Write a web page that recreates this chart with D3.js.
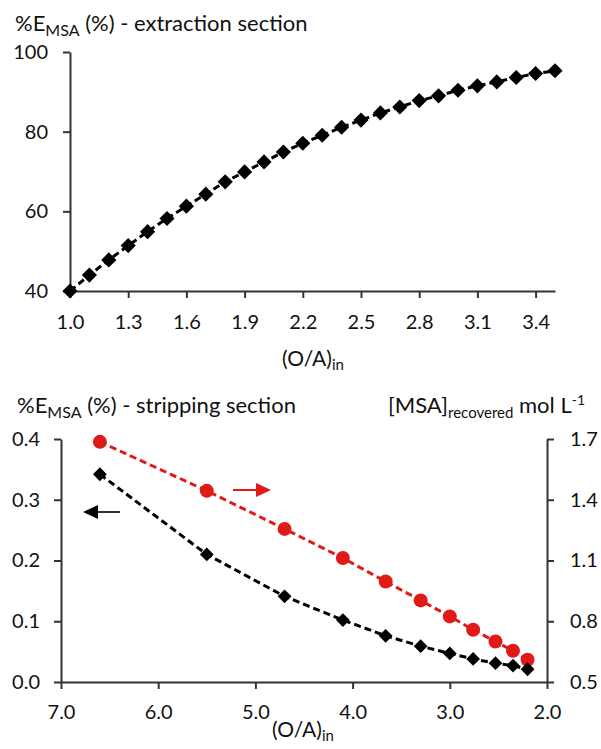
<!DOCTYPE html>
<html>
<head>
<meta charset="utf-8">
<script src="https://cdn.jsdelivr.net/npm/d3@7"></script>
<style>
  body { margin: 0; background: #fff; }
  svg { display: block; font-family: Lato, "Open Sans", sans-serif; }
</style>
</head>
<body>
<div id="chart"></div>
<script>
// extraction section
const extRatio = [1.0, 1.1, 1.2, 1.3, 1.4, 1.5, 1.6, 1.7, 1.8, 1.9, 2.0, 2.1, 2.2,
  2.3, 2.4, 2.5, 2.6, 2.7, 2.8, 2.9, 3.0, 3.1, 3.2, 3.3, 3.4, 3.5];
const extPercent = [40.0, 44.0, 47.8, 51.4, 54.9, 58.2, 61.3, 64.3, 67.4, 69.9, 72.4,
  74.9, 77.1, 79.1, 81.1, 82.9, 84.7, 86.2, 87.8, 89.0, 90.4, 91.5, 92.5, 93.6, 94.6, 95.3];
const extXTicks = [1.0, 1.3, 1.6, 1.9, 2.2, 2.5, 2.8, 3.1, 3.4];
const extYTicks = [40, 60, 80, 100];

// stripping section
const stripRatio = [6.6, 5.5, 4.7, 4.1, 3.66, 3.3, 3.0, 2.76, 2.53, 2.35, 2.2];
const stripPercent = [0.342, 0.210, 0.141, 0.102, 0.076, 0.059, 0.047, 0.038, 0.031, 0.027, 0.021];
const msaRecovered = [1.686, 1.444, 1.256, 1.112, 0.996, 0.903, 0.824, 0.758, 0.700, 0.654, 0.610];
const stripXTicks = [7.0, 6.0, 5.0, 4.0, 3.0, 2.0];
const stripYTicks = [0.0, 0.1, 0.2, 0.3, 0.4];
const msaYTicks = [0.5, 0.8, 1.1, 1.4, 1.7];

const RED = "#e01a17";
const AXIS = "#333";
const TEXT = "#111";
const width = 601, height = 749;

const svg = d3.select("#chart").append("svg")
  .attr("width", width).attr("height", height);
svg.append("rect").attr("width", width).attr("height", height).attr("fill", "#fff");

function styleAxis(g) {
  g.select(".domain").attr("stroke", AXIS).attr("stroke-width", 2);
  g.selectAll(".tick line").attr("stroke", AXIS).attr("stroke-width", 2);
  g.selectAll(".tick text").attr("font-size", 20).attr("fill", TEXT)
    .attr("font-family", "Lato, 'Open Sans', sans-serif");
}

const diamond = d3.symbol().type(d3.symbolSquare);

// ---------- top chart ----------
const x1 = d3.scaleLinear().domain([1.0, 3.5]).range([70, 555]);
const y1 = d3.scaleLinear().domain([40, 100]).range([291, 52]);

svg.append("g").attr("transform", "translate(0,291)")
  .call(d3.axisBottom(x1).tickValues(extXTicks).tickFormat(d3.format(".1f"))
    .tickSize(7).tickSizeOuter(0).tickPadding(17))
  .call(styleAxis);
svg.append("g").attr("transform", "translate(70,0)")
  .call(d3.axisLeft(y1).tickValues(extYTicks).tickSize(7).tickSizeOuter(0).tickPadding(15))
  .call(styleAxis);

const ext = extRatio.map((r, i) => ({ x: r, y: extPercent[i] }));
svg.append("path").datum(ext)
  .attr("fill", "none").attr("stroke", "#000").attr("stroke-width", 3)
  .attr("stroke-dasharray", "7,4")
  .attr("d", d3.line().x(d => x1(d.x)).y(d => y1(d.y)));
svg.append("g").selectAll("path").data(ext).enter().append("path")
  .attr("d", diamond.size(115))
  .attr("transform", d => "translate(" + x1(d.x) + "," + y1(d.y) + ") rotate(45)")
  .attr("fill", "#000");

const t1 = svg.append("text").attr("x", 15).attr("y", 31).attr("font-size", 22).attr("fill", TEXT);
t1.append("tspan").text("%E");
t1.append("tspan").attr("font-size", 16).attr("dy", 5).text("MSA");
t1.append("tspan").attr("dy", -5).text(" (%) - extraction section");

const a1 = svg.append("text").attr("x", 282).attr("y", 366).attr("font-size", 21).attr("fill", TEXT);
a1.append("tspan").text("(O/A)");
a1.append("tspan").attr("font-size", 15).attr("dy", 4).text("in");

// ---------- bottom chart ----------
const x2 = d3.scaleLinear().domain([7.0, 2.0]).range([61, 547]);
const y2 = d3.scaleLinear().domain([0, 0.4]).range([682, 439]);
const y3 = d3.scaleLinear().domain([0.5, 1.7]).range([682, 439]);

svg.append("g").attr("transform", "translate(0,682)")
  .call(d3.axisBottom(x2).tickValues(stripXTicks).tickFormat(d3.format(".1f"))
    .tickSize(7).tickSizeOuter(0).tickPadding(16))
  .call(styleAxis);
svg.append("g").attr("transform", "translate(61,0)")
  .call(d3.axisLeft(y2).tickValues(stripYTicks).tickFormat(d3.format(".1f"))
    .tickSize(7).tickSizeOuter(0).tickPadding(14))
  .call(styleAxis);
svg.append("g").attr("transform", "translate(547,0)")
  .call(d3.axisRight(y3).tickValues(msaYTicks).tickFormat(d3.format(".1f"))
    .tickSize(7).tickSizeOuter(0).tickPadding(16))
  .call(styleAxis);

const strip = stripRatio.map((r, i) => ({ x: r, y: stripPercent[i] }));
const msa = stripRatio.map((r, i) => ({ x: r, y: msaRecovered[i] }));

svg.append("path").datum(msa)
  .attr("fill", "none").attr("stroke", RED).attr("stroke-width", 3)
  .attr("stroke-dasharray", "7,4")
  .attr("d", d3.line().x(d => x2(d.x)).y(d => y3(d.y)));
svg.append("g").selectAll("circle").data(msa).enter().append("circle")
  .attr("cx", d => x2(d.x)).attr("cy", d => y3(d.y)).attr("r", 7)
  .attr("fill", RED);

svg.append("path").datum(strip)
  .attr("fill", "none").attr("stroke", "#000").attr("stroke-width", 3)
  .attr("stroke-dasharray", "7,4")
  .attr("d", d3.line().x(d => x2(d.x)).y(d => y2(d.y)));
svg.append("g").selectAll("path").data(strip).enter().append("path")
  .attr("d", diamond.size(95))
  .attr("transform", d => "translate(" + x2(d.x) + "," + y2(d.y) + ") rotate(45)")
  .attr("fill", "#000");

// arrows
svg.append("line").attr("x1", 233).attr("y1", 490).attr("x2", 257).attr("y2", 490)
  .attr("stroke", RED).attr("stroke-width", 2);
svg.append("path").attr("d", "M256,483 L271,490 L256,497 Z").attr("fill", RED);
svg.append("line").attr("x1", 120).attr("y1", 512).attr("x2", 97).attr("y2", 512)
  .attr("stroke", "#333").attr("stroke-width", 2);
svg.append("path").attr("d", "M98,505 L83,512 L98,519 Z").attr("fill", "#000");

const t2 = svg.append("text").attr("x", 17).attr("y", 413).attr("font-size", 22).attr("fill", TEXT);
t2.append("tspan").text("%E");
t2.append("tspan").attr("font-size", 16).attr("dy", 5).text("MSA");
t2.append("tspan").attr("dy", -5).text(" (%) - stripping section");

const t3 = svg.append("text").attr("x", 388).attr("y", 413).attr("font-size", 22).attr("fill", TEXT);
t3.append("tspan").text("[MSA]");
t3.append("tspan").attr("font-size", 15).attr("dy", 5).text("recovered");
t3.append("tspan").attr("dy", -5).text(" mol L");
t3.append("tspan").attr("font-size", 14).attr("dy", -8).text("-1");

const a2 = svg.append("text").attr("x", 272).attr("y", 737).attr("font-size", 21).attr("fill", TEXT);
a2.append("tspan").text("(O/A)");
a2.append("tspan").attr("font-size", 15).attr("dy", 4).text("in");
</script>
</body>
</html>
